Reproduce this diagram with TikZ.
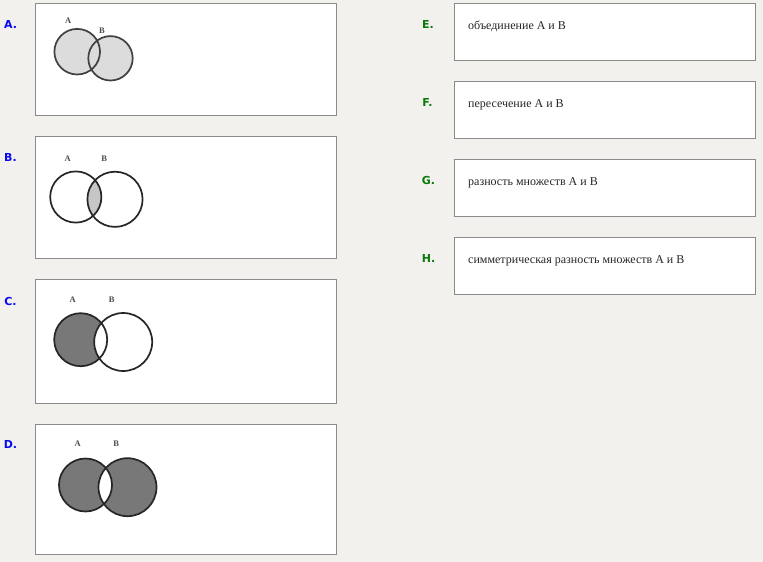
\documentclass[tikz,border=0pt]{standalone}
\usepackage{fontspec}
\setmainfont{Liberation Serif}
\newfontfamily\tagfont{DejaVu Sans}
\definecolor{bg}{HTML}{F2F1ED}
\definecolor{frame}{HTML}{8A8A8A}
\definecolor{tagblue}{HTML}{0A0AF0}
\definecolor{taggreen}{HTML}{0A7A0A}
\definecolor{lightset}{HTML}{DCDCDC}
\definecolor{darkset}{HTML}{787878}
\tikzset{   card/.style = {draw = frame, fill = white, line width = 1pt},
            tag/.style = {anchor = base, inner sep = 0pt, font = \tagfont\bfseries\fontsize{11}{13}\selectfont},
            answer/.style = {anchor = base west, inner sep = 0pt, text = black!85, font = \fontsize{12}{14}\selectfont},
            setname/.style = {inner sep = 0pt, text = black!70, font = \bfseries\fontsize{8.5}{9}\selectfont},
            ring/.style = {draw = black!85, line width = 1.7pt}}

\begin{document}
\begin{tikzpicture}[x=1pt,y=-1pt]
                        \fill[bg] (0,0) rectangle (763,562);
                        % left column: pictures
                        \draw[card] (35.5,3.5) rectangle (336,115.5);
                        \draw[card] (35.5,136.5) rectangle (336,258.5);
                        \draw[card] (35.5,279.5) rectangle (336,403.5);
                        \draw[card] (35.5,424.5) rectangle (336,554.5);
                        \node[tag, text = tagblue] (tagA) at (10.5,28.3) {A.};
                        \node[tag, text = tagblue] (tagB) at (10.5,161) {B.};
                        \node[tag, text = tagblue] (tagC) at (10.5,305) {C.};
                        \node[tag, text = tagblue] (tagD) at (10.5,448.3) {D.};
                        % A: union
                        \coordinate (a1) at (77.2,51.7);
                        \coordinate (a2) at (110.5,58.3);
                        \fill[lightset] (a1) circle (22.8) (a2) circle (22.2);
                        \draw[ring, black!75] (a1) circle (22.8) (a2) circle (22.2);
                        \node[setname] (a1name) at (68.3,20.7) {A};
                        \node[setname] (a2name) at (102,30.7) {B};
                        % B: intersection
                        \coordinate (b1) at (75.8,197);
                        \coordinate (b2) at (115,199.3);
                        \begin{scope}
                        \clip (b1) circle (25.6);
                        \fill[lightset!90!black] (b2) circle (27.6);
                        \end{scope}
                        \draw[ring] (b1) circle (25.6) (b2) circle (27.6);
                        \node[setname] (b1name) at (67.7,158.3) {A};
                        \node[setname] (b2name) at (104.3,158.3) {B};
                        % C: difference
                        \coordinate (c1) at (80.7,339.7);
                        \coordinate (c2) at (123.2,342);
                        \fill[darkset] (c1) circle (26.5);
                        \fill[white] (c2) circle (29);
                        \draw[ring] (c1) circle (26.5) (c2) circle (29);
                        \node[setname] (c1name) at (72.7,299.3) {A};
                        \node[setname] (c2name) at (111.7,299.3) {B};
                        % D: symmetric difference
                        \coordinate (d1) at (85.5,485);
                        \coordinate (d2) at (127.5,487.2);
                        \fill[darkset, even odd rule] (d1) circle (26.5) (d2) circle (29);
                        \draw[ring] (d1) circle (26.5) (d2) circle (29);
                        \node[setname] (d1name) at (77.7,444) {A};
                        \node[setname] (d2name) at (116.3,444) {B};
                        % right column: answers
                        \draw[card] (454.5,3.5) rectangle (755,60.5);
                        \draw[card] (454.5,81.5) rectangle (755,138.5);
                        \draw[card] (454.5,159.5) rectangle (755,216.5);
                        \draw[card] (454.5,237.5) rectangle (755,294.5);
                        \node[tag, text = taggreen] (tagE) at (428,28.3) {E.};
                        \node[tag, text = taggreen] (tagF) at (427.5,106.5) {F.};
                        \node[tag, text = taggreen] (tagG) at (428.5,184.5) {G.};
                        \node[tag, text = taggreen] (tagH) at (428.5,262.5) {H.};
                        \node[answer] (textE) at (468,29.5) {объединение A и B};
                        \node[answer] (textF) at (468,107) {пересечение A и B};
                        \node[answer] (textG) at (468,185) {разность множеств A и B};
                        \node[answer] (textH) at (468,263.3) {симметрическая разность множеств A и B};
\end{tikzpicture}
\end{document}
